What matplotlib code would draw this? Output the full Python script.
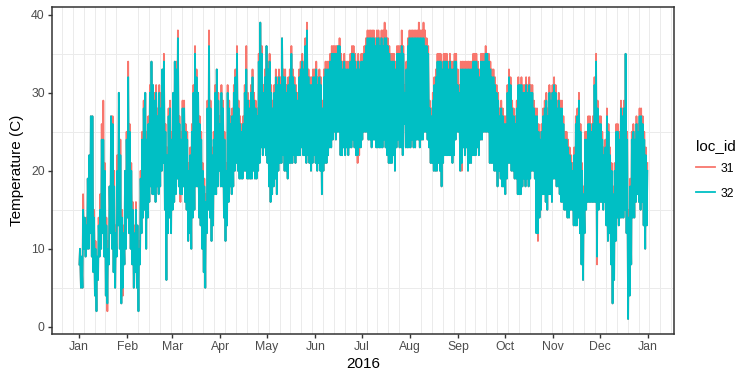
import numpy as np
import matplotlib
matplotlib.use("Agg")
import matplotlib.pyplot as plt
import matplotlib.dates as mdates
from matplotlib.ticker import FixedLocator
from matplotlib.lines import Line2D

# daily low / high temperatures (C), 2016
lo_31 = [
    8, 5, 5, 10, 9, 10, 10, 12, 9, 7, 4, 2, 6, 9, 10, 12, 9, 4, 2, 8,
    12, 10, 7, 5, 9, 13, 10, 3, 4, 8, 10, 14, 12, 10, 8, 5, 7, 5, 2, 8,
    12, 14, 15, 10, 14, 16, 18, 17, 17, 16, 18, 17, 18, 20, 21, 15, 6, 12, 14, 12,
    15, 16, 17, 19, 18, 16, 17, 18, 16, 15, 11, 12, 10, 14, 15, 18, 18, 14, 13, 10,
    7, 5, 12, 15, 14, 11, 13, 17, 17, 18, 20, 18, 18, 14, 11, 13, 16, 18, 17, 18,
    20, 21, 20, 19, 19, 19, 20, 20, 19, 19, 19, 19, 20, 19, 19, 20, 21, 23, 22, 23,
    22, 21, 18, 16, 17, 18, 19, 17, 20, 21, 21, 22, 20, 20, 19, 21, 21, 21, 22, 21,
    22, 22, 22, 23, 22, 22, 21, 22, 21, 20, 21, 22, 21, 20, 21, 20, 17, 20, 21, 21,
    22, 23, 23, 24, 25, 24, 25, 25, 22, 22, 23, 22, 23, 22, 23, 23, 24, 23, 22, 21,
    22, 23, 24, 25, 25, 25, 24, 24, 23, 24, 24, 23, 23, 23, 23, 23, 24, 23, 22, 21,
    21, 21, 22, 20, 23, 24, 23, 23, 22, 26, 23, 23, 23, 23, 24, 23, 23, 24, 24, 23,
    24, 24, 25, 25, 24, 23, 21, 21, 20, 20, 20, 21, 20, 18, 21, 22, 22, 22, 22, 22,
    21, 22, 24, 25, 25, 20, 20, 23, 22, 23, 20, 21, 21, 22, 22, 22, 23, 22, 24, 24,
    25, 25, 25, 25, 21, 21, 21, 20, 20, 18, 20, 19, 18, 18, 17, 19, 21, 21, 20, 20,
    19, 19, 17, 17, 17, 18, 19, 18, 19, 18, 19, 20, 20, 19, 12, 11, 14, 15, 17, 17,
    16, 15, 17, 17, 16, 19, 19, 18, 18, 17, 16, 16, 15, 15, 14, 14, 15, 15, 13, 13,
    13, 14, 12, 8, 6, 12, 15, 16, 16, 16, 16, 16, 16, 8, 15, 16, 16, 15, 16, 13,
    11, 12, 8, 3, 6, 11, 14, 13, 14, 14, 14, 15, 12, 1, 4, 8, 14, 14, 16, 17,
    16, 15, 16, 13, 10, 13]
hi_31 = [
    10, 9, 17, 14, 14, 19, 22, 27, 27, 15, 11, 9, 14, 17, 26, 29, 21, 14, 11, 18,
    27, 27, 20, 13, 22, 30, 24, 15, 13, 20, 25, 34, 26, 21, 16, 13, 16, 13, 11, 20,
    25, 29, 30, 25, 27, 31, 34, 31, 30, 31, 28, 31, 30, 33, 35, 26, 23, 28, 29, 25,
    30, 34, 34, 38, 27, 25, 29, 29, 26, 25, 21, 23, 26, 31, 36, 33, 30, 27, 25, 21,
    19, 17, 29, 38, 29, 23, 25, 31, 33, 30, 27, 31, 29, 25, 21, 31, 29, 27, 28, 31,
    33, 36, 29, 27, 26, 27, 31, 36, 30, 29, 31, 33, 30, 29, 28, 35, 39, 36, 31, 33,
    36, 34, 35, 31, 29, 31, 33, 32, 33, 32, 37, 33, 33, 31, 32, 33, 36, 33, 32, 31,
    30, 33, 34, 35, 34, 37, 39, 33, 32, 32, 33, 33, 34, 32, 33, 32, 29, 33, 34, 34,
    34, 35, 36, 36, 36, 36, 36, 37, 35, 34, 35, 34, 34, 34, 35, 36, 36, 35, 34, 35,
    34, 35, 35, 36, 37, 38, 38, 38, 38, 38, 37, 38, 38, 37, 38, 38, 39, 38, 37, 36,
    35, 35, 35, 34, 36, 36, 36, 38, 36, 31, 34, 37, 38, 38, 38, 38, 38, 38, 39, 38,
    38, 39, 38, 37, 36, 29, 28, 30, 32, 33, 35, 35, 35, 34, 35, 35, 35, 34, 35, 34,
    34, 35, 35, 33, 31, 34, 34, 34, 34, 34, 34, 34, 34, 35, 35, 35, 34, 33, 35, 35,
    35, 36, 35, 35, 34, 33, 33, 32, 31, 30, 28, 29, 28, 27, 27, 31, 33, 32, 29, 28,
    27, 29, 32, 31, 32, 31, 31, 32, 31, 32, 31, 31, 29, 28, 28, 26, 25, 26, 28, 29,
    30, 28, 31, 30, 31, 32, 31, 29, 30, 29, 29, 27, 25, 25, 24, 23, 22, 21, 23, 27,
    28, 30, 26, 21, 18, 25, 25, 27, 27, 26, 27, 32, 35, 29, 27, 27, 25, 23, 24, 28,
    26, 23, 21, 18, 21, 26, 26, 25, 29, 28, 29, 35, 25, 15, 19, 25, 26, 25, 27, 26,
    28, 28, 27, 25, 23, 21]
lo_32 = [
    8, 5, 5, 10, 9, 10, 10, 12, 9, 7, 4, 2, 6, 9, 10, 12, 9, 4, 3, 8,
    12, 10, 7, 5, 9, 13, 10, 3, 5, 8, 10, 14, 12, 10, 8, 5, 7, 5, 2, 8,
    12, 14, 15, 10, 14, 16, 18, 17, 17, 16, 18, 17, 18, 20, 21, 15, 6, 12, 14, 12,
    15, 16, 17, 19, 18, 17, 17, 18, 16, 15, 11, 12, 10, 14, 15, 18, 18, 14, 13, 10,
    7, 5, 12, 15, 14, 11, 13, 17, 17, 18, 20, 18, 18, 14, 11, 13, 16, 18, 17, 18,
    20, 21, 20, 19, 19, 19, 20, 20, 19, 19, 19, 19, 20, 19, 19, 20, 21, 23, 22, 23,
    22, 21, 18, 16, 17, 18, 19, 17, 20, 21, 21, 22, 20, 20, 19, 21, 21, 21, 22, 21,
    22, 22, 22, 23, 22, 22, 21, 22, 21, 20, 21, 22, 21, 20, 21, 20, 17, 20, 21, 21,
    22, 23, 23, 24, 25, 24, 25, 25, 22, 22, 23, 22, 23, 22, 23, 23, 24, 23, 22, 22,
    23, 23, 24, 25, 25, 25, 24, 24, 23, 24, 24, 23, 23, 23, 23, 23, 24, 23, 22, 21,
    21, 21, 22, 20, 23, 24, 23, 23, 22, 26, 23, 23, 23, 23, 24, 23, 23, 24, 24, 23,
    24, 24, 25, 25, 24, 23, 21, 21, 20, 20, 20, 21, 20, 18, 21, 22, 22, 22, 22, 22,
    21, 22, 24, 25, 25, 20, 21, 23, 22, 23, 20, 21, 21, 22, 22, 22, 23, 22, 24, 24,
    25, 25, 25, 25, 21, 21, 21, 20, 20, 18, 20, 19, 18, 18, 17, 19, 21, 21, 20, 20,
    19, 19, 17, 17, 17, 18, 19, 18, 19, 18, 19, 20, 20, 19, 12, 12, 14, 15, 17, 17,
    16, 15, 17, 17, 16, 19, 19, 18, 18, 17, 16, 16, 15, 15, 14, 14, 15, 15, 13, 13,
    13, 14, 12, 8, 6, 12, 15, 16, 16, 16, 16, 16, 16, 9, 15, 16, 16, 15, 16, 13,
    11, 12, 8, 3, 6, 11, 14, 13, 14, 14, 14, 15, 12, 1, 4, 8, 14, 14, 16, 17,
    16, 15, 16, 13, 10, 13]
hi_32 = [
    10, 9, 15, 14, 13, 19, 22, 27, 27, 14, 10, 9, 13, 15, 24, 24, 20, 13, 10, 18,
    27, 26, 18, 12, 20, 30, 22, 14, 12, 20, 24, 32, 25, 20, 15, 12, 15, 13, 10, 19,
    24, 28, 30, 24, 26, 30, 34, 31, 29, 30, 27, 30, 28, 33, 34, 25, 22, 27, 28, 24,
    30, 34, 33, 37, 26, 24, 28, 28, 25, 24, 20, 22, 25, 30, 35, 32, 30, 26, 24, 20,
    18, 16, 28, 36, 28, 22, 24, 30, 33, 29, 26, 30, 28, 24, 20, 30, 28, 26, 27, 30,
    32, 35, 28, 26, 25, 26, 30, 33, 29, 28, 30, 32, 29, 28, 27, 34, 39, 35, 30, 32,
    36, 33, 34, 30, 28, 30, 32, 31, 32, 31, 37, 32, 32, 30, 31, 32, 35, 32, 31, 30,
    29, 32, 33, 34, 33, 36, 38, 32, 31, 31, 32, 32, 33, 31, 32, 31, 28, 32, 33, 33,
    33, 34, 35, 35, 35, 35, 36, 36, 34, 33, 34, 33, 33, 33, 34, 35, 35, 34, 33, 34,
    33, 34, 34, 35, 36, 37, 37, 37, 37, 37, 36, 37, 37, 36, 37, 36, 37, 37, 36, 35,
    34, 34, 34, 33, 35, 35, 35, 36, 35, 30, 33, 36, 37, 37, 37, 37, 37, 37, 37, 37,
    37, 37, 36, 36, 35, 28, 27, 29, 31, 32, 34, 34, 34, 33, 34, 34, 34, 33, 34, 33,
    33, 34, 34, 31, 30, 33, 33, 33, 33, 33, 33, 33, 33, 34, 34, 34, 33, 32, 34, 34,
    34, 35, 35, 34, 33, 32, 32, 31, 30, 29, 27, 28, 27, 26, 26, 30, 32, 31, 28, 27,
    26, 28, 31, 31, 31, 30, 30, 31, 30, 31, 30, 30, 28, 27, 27, 25, 24, 25, 27, 28,
    29, 27, 30, 29, 30, 31, 30, 28, 29, 28, 28, 26, 24, 24, 23, 22, 21, 20, 22, 26,
    27, 29, 25, 20, 17, 24, 24, 26, 26, 25, 26, 31, 34, 28, 26, 26, 24, 22, 23, 27,
    25, 22, 20, 17, 20, 25, 25, 24, 28, 27, 28, 35, 24, 14, 18, 24, 25, 24, 26, 25,
    27, 27, 26, 24, 22, 20]

loc_ids = ["31", "32"]
colors = ["#F8766D", "#00BFC4"]

plt.rcParams["font.family"] = ["Liberation Sans", "DejaVu Sans"]

start = mdates.date2num(np.datetime64("2016-01-01"))
days = np.arange(len(lo_32))


def zigzag(lo, hi):
    # low in the early morning, high in the afternoon
    x = np.column_stack([start + days + 0.25, start + days + 0.625]).ravel()
    y = np.column_stack([lo, hi]).ravel()
    return x, y


fig = plt.figure(figsize=(7.55, 3.77), dpi=100)
ax = fig.add_axes([51.7 / 755, 43 / 377, 622.6 / 755, 326.7 / 377])

for lo, hi, c in [(lo_31, hi_31, colors[0]), (lo_32, hi_32, colors[1])]:
    x, y = zigzag(lo, hi)
    ax.plot(x, y, color=c, linewidth=1.3)

ax.set_xlim(start - 17.56, start + 382.96)
ax.set_ylim(-0.92, 40.96)

ax.xaxis.set_major_locator(mdates.MonthLocator())
ax.xaxis.set_major_formatter(mdates.DateFormatter("%b"))
ax.xaxis.set_minor_locator(mdates.WeekdayLocator(byweekday=mdates.MO))
ax.set_yticks([0, 10, 20, 30, 40])
ax.yaxis.set_minor_locator(FixedLocator([5, 15, 25, 35]))

ax.set_axisbelow(True)
ax.grid(False, which="major")
ax.grid(True, which="minor", color="#EBEBEB", linewidth=0.7)
ax.tick_params(which="minor", length=0)
ax.tick_params(which="major", length=2.75, width=1.0, color="#333333",
               labelsize=8.8, labelcolor="#4D4D4D", pad=2.2)
for s in ax.spines.values():
    s.set_color("#333333")
    s.set_linewidth(1.1)

ax.set_xlabel("2016", fontsize=11, labelpad=3)
ax.set_ylabel("Temperature (C)", fontsize=11, labelpad=5)

handles = [Line2D([], [], color=c, linewidth=1.3) for c in colors]
leg = fig.legend(handles, loc_ids, title="loc_id", loc="upper left",
                 bbox_to_anchor=(696 / 755, 1 - 139 / 377), frameon=False,
                 fontsize=8.8, title_fontsize=11, borderpad=0, borderaxespad=0,
                 handlelength=1.55, handletextpad=0.45, labelspacing=1.05,
                 alignment="left")
leg._legend_box.sep = 7

fig.savefig("out.png", dpi=100)
